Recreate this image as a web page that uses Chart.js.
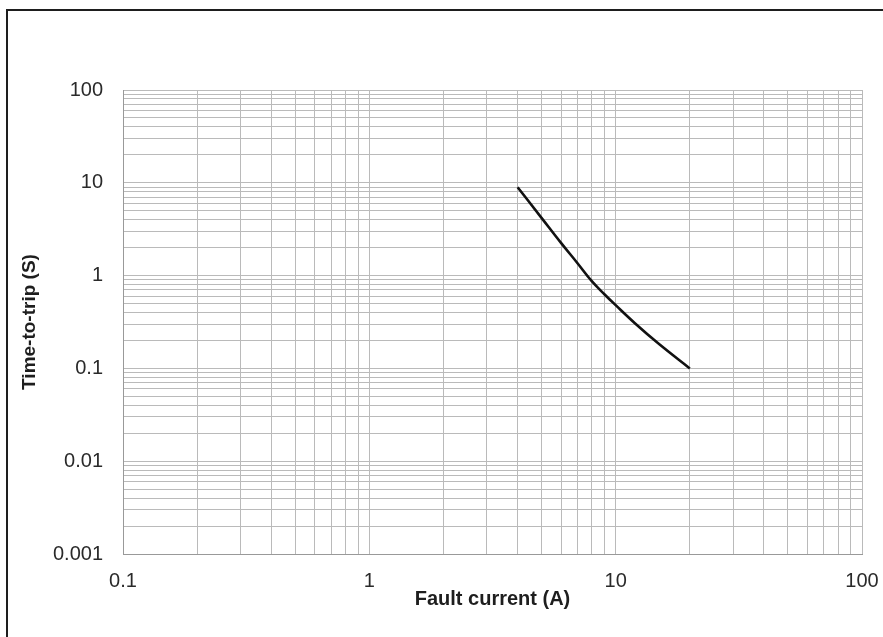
<!DOCTYPE html>
<html>
<head>
<meta charset="utf-8">
<script src="https://cdn.jsdelivr.net/npm/chart.js@4"></script>
<style>
  body { margin: 0; background: #fff; }
  #wrap { position: relative; width: 883px; height: 637px; }
  #frame { position: absolute; left: 6px; top: 9px; right: 0; bottom: 0;
           border-top: 2px solid #1e1e1e; border-left: 2px solid #1e1e1e; pointer-events: none; }
</style>
</head>
<body>
<div id="wrap">
  <canvas id="myChart" width="883" height="637"></canvas>
  <div id="frame"></div>
</div>
<script>
// trip curve
var current = [4, 5, 6, 7, 8, 9, 10, 12, 15, 20];
var tripTime = [8.95, 4.19, 2.25, 1.36, 0.87, 0.63, 0.48, 0.305, 0.183, 0.1];

var xDecades = [0.1, 1, 10];
var yDecades = [0.001, 0.01, 0.1, 1, 10];
var xLabels = ['0.1', '1', '10', '100'];
var yLabels = ['0.001', '0.01', '0.1', '1', '10', '100'];

// gridlines at 1..9 of every decade, plus the last power of ten
function gridValues(decades) {
    var out = [];
    decades.forEach(function (d) {
        for (var m = 1; m < 10; m++) out.push(+(m * d).toPrecision(3));
    });
    out.push(decades[decades.length - 1] * 10);
    return out;
}
var xTicks = gridValues(xDecades);
var yTicks = gridValues(yDecades);

function labelFor(v, labels) {
    for (var i = 0; i < labels.length; i++) {
        if (Math.abs(parseFloat(labels[i]) - v) < v * 1e-6) return labels[i];
    }
    return '';
}

var font = 'Liberation Sans, Arial, sans-serif';

var ctx = document.getElementById('myChart').getContext('2d');
var myChart = new Chart(ctx, {
    type: 'line',
    data: {
        datasets: [{
            data: current.map(function (c, i) { return { x: c, y: tripTime[i] }; }),
            borderColor: '#111',
            borderWidth: 2.6,
            pointRadius: 0,
            tension: 0.4,
            fill: false
        }]
    },
    options: {
        responsive: false,
        animation: false,
        layout: { padding: { left: 12, top: 90, right: 21, bottom: 20 } },
        plugins: { legend: { display: false }, tooltip: { enabled: false } },
        scales: {
            x: {
                type: 'logarithmic',
                min: 0.1,
                max: 100,
                afterBuildTicks: function (scale) {
                    scale.ticks = xTicks.map(function (v) { return { value: v }; });
                },
                afterFit: function (scale) {
                    scale.height = 63;
                    scale.paddingLeft = 0;
                    scale.paddingRight = 0;
                },
                grid: { color: '#bababa', lineWidth: 1, drawTicks: false },
                border: { color: '#999', width: 1 },
                ticks: {
                    autoSkip: false,
                    maxRotation: 0,
                    padding: 15,
                    color: '#2a2a2a',
                    font: { family: font, size: 20 },
                    callback: function (v) { return labelFor(v, xLabels); }
                },
                title: {
                    display: true,
                    text: 'Fault current (A)',
                    color: '#1e1e1e',
                    padding: { top: 0, bottom: 6 },
                    font: { family: font, size: 20, weight: 'bold' }
                }
            },
            y: {
                type: 'logarithmic',
                min: 0.001,
                max: 100,
                afterBuildTicks: function (scale) {
                    scale.ticks = yTicks.map(function (v) { return { value: v }; });
                },
                afterFit: function (scale) {
                    scale.width = 111;
                    scale.paddingTop = 0;
                    scale.paddingBottom = 0;
                },
                grid: { color: '#bababa', lineWidth: 1, drawTicks: false },
                border: { color: '#999', width: 1 },
                ticks: {
                    autoSkip: false,
                    padding: 20,
                    color: '#2a2a2a',
                    font: { family: font, size: 20 },
                    callback: function (v) { return labelFor(v, yLabels); }
                },
                title: {
                    display: true,
                    text: 'Time-to-trip (S)',
                    color: '#1e1e1e',
                    padding: { top: 6, bottom: 0 },
                    font: { family: font, size: 19, weight: 'bold' }
                }
            }
        }
    }
});
</script>
</body>
</html>
